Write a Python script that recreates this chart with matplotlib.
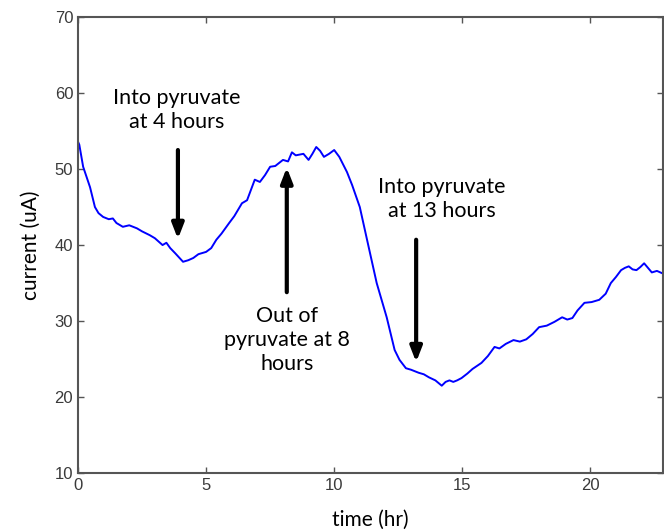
import matplotlib.pyplot as plt

# trace
time_hr = [0.0, 0.05, 0.2, 0.47, 0.66, 0.8, 0.98, 1.2, 1.36, 1.5, 1.75, 2.0, 2.3, 2.5, 2.8, 3.0,
           3.3, 3.45, 3.6, 3.8, 4.1, 4.3, 4.5, 4.7, 5.0, 5.2, 5.4, 5.6, 5.9, 6.1, 6.4, 6.6,
           6.9, 7.1, 7.3, 7.5, 7.7, 8.0, 8.2, 8.35, 8.5, 8.8, 9.0, 9.15, 9.3, 9.45, 9.6, 9.8,
           10.0, 10.2, 10.5, 10.7, 11.0, 11.27, 11.66, 12.05, 12.36, 12.55, 12.8, 13.0, 13.3,
           13.5, 13.7, 13.95, 14.2, 14.35, 14.5, 14.65, 14.8, 14.97, 15.2, 15.4, 15.75, 16.0,
           16.26, 16.45, 16.7, 17.0, 17.25, 17.5, 17.75, 18.0, 18.3, 18.6, 18.9, 19.1, 19.3,
           19.5, 19.77, 20.05, 20.35, 20.6, 20.8, 21.0, 21.2, 21.35, 21.5, 21.65, 21.8, 21.95,
           22.1, 22.25, 22.4, 22.6, 22.8, 23.0]
current_ua = [53.6, 53.2, 50.3, 47.6, 45.0, 44.2, 43.7, 43.4, 43.5, 42.9, 42.4, 42.6, 42.2, 41.8,
              41.3, 40.9, 40.0, 40.3, 39.6, 38.9, 37.8, 38.0, 38.3, 38.8, 39.1, 39.6, 40.7, 41.5,
              42.9, 43.8, 45.5, 45.9, 48.6, 48.3, 49.2, 50.3, 50.4, 51.2, 51.0, 52.2, 51.8, 52.0,
              51.2, 52.0, 52.9, 52.4, 51.6, 52.0, 52.5, 51.6, 49.6, 47.9, 45.0, 40.9, 35.0, 30.5,
              26.2, 24.9, 23.8, 23.6, 23.2, 23.0, 22.6, 22.2, 21.5, 22.0, 22.2, 22.0, 22.2, 22.5,
              23.1, 23.7, 24.5, 25.4, 26.6, 26.4, 27.0, 27.5, 27.3, 27.6, 28.3, 29.2, 29.4, 29.9,
              30.5, 30.2, 30.4, 31.4, 32.4, 32.5, 32.8, 33.6, 35.0, 35.8, 36.7, 37.0, 37.2, 36.8,
              36.7, 37.1, 37.6, 37.0, 36.4, 36.6, 36.3, 36.2]

# annotations: (text, text x, text y, arrow x, arrow start y, arrow tip y)
notes = [
    ("Into pyruvate\nat 4 hours", 3.86, 57.7, 3.9, 52.5, 40.8),
    ("Out of\npyruvate at 8\nhours", 8.15, 27.5, 8.15, 33.8, 50.2),
    ("Into pyruvate\nat 13 hours", 14.2, 46.0, 13.2, 40.7, 24.6),
]

ann_font = ['Lato', 'DejaVu Sans']
tick_font = ['Liberation Sans', 'DejaVu Sans']

fig = plt.figure(figsize=(6.64, 5.31), dpi=100)
ax = fig.add_axes([0.1175, 0.109, 0.8815, 0.859])

ax.plot(time_hr, current_ua, color='#0000ff', lw=1.4)

for txt, tx, ty, axx, y0, y1 in notes:
    ax.text(tx, ty, txt, ha='center', va='center', fontsize=15.5,
            family=ann_font, linespacing=1.25)
    ax.annotate('', xy=(axx, y1), xytext=(axx, y0),
                arrowprops=dict(arrowstyle='-|>,head_width=0.35,head_length=0.9',
                                lw=3, color='black', shrinkA=0, shrinkB=0))

ax.set_xlim(0, 22.85)
ax.set_ylim(10, 70)
ax.set_xticks([0, 5, 10, 15, 20])
ax.set_yticks([10, 20, 30, 40, 50, 60, 70])

for s in ax.spines.values():
    s.set_color('#555555')
    s.set_linewidth(1.5)
ax.tick_params(direction='in', top=True, right=True, length=4, width=1,
               color='#555555', labelcolor='#3a3a3a', labelsize=12)
for lab in ax.get_xticklabels() + ax.get_yticklabels():
    lab.set_family(tick_font)

ax.set_xlabel('time (hr)', fontsize=15, family=ann_font, labelpad=12)
ax.set_ylabel('current (uA)', fontsize=15, family=ann_font, labelpad=10)

fig.savefig('out.png', dpi=100)
